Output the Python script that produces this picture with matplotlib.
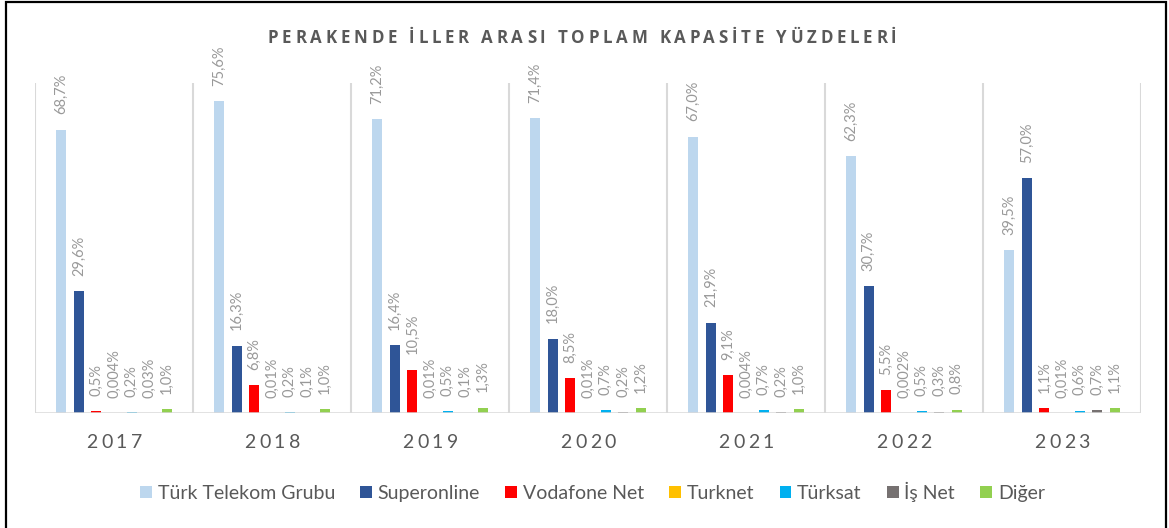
import matplotlib
matplotlib.use("Agg")
import matplotlib.pyplot as plt
from matplotlib.patches import Patch, Rectangle
from matplotlib.font_manager import FontProperties
import numpy as np

plt.rcParams['font.family'] = ['Lato', 'DejaVu Sans']

years = ["2017", "2018", "2019", "2020", "2021", "2022", "2023"]
series_names = ["Türk Telekom Grubu", "Superonline", "Vodafone Net", "Turknet", "Türksat", "İş Net", "Diğer"]
turk_telekom = [68.7, 75.6, 71.2, 71.4, 67.0, 62.3, 39.5]
superonline = [29.6, 16.3, 16.4, 18.0, 21.9, 30.7, 57.0]
vodafone = [0.5, 6.8, 10.5, 8.5, 9.1, 5.5, 1.1]
turknet = [0.004, 0.01, 0.01, 0.01, 0.004, 0.002, 0.01]
turksat = [0.2, 0.2, 0.5, 0.7, 0.7, 0.5, 0.6]
isnet = [0.03, 0.1, 0.1, 0.2, 0.2, 0.3, 0.7]
diger = [1.0, 1.0, 1.3, 1.2, 1.0, 0.8, 1.1]
series = [turk_telekom, superonline, vodafone, turknet, turksat, isnet, diger]
colors = ["#BDD7EE", "#2F5597", "#FF0000", "#FFC000", "#00B0F0", "#767171", "#92D050"]
title = "PERAKENDE İLLER ARASI TOPLAM KAPASİTE YÜZDELERİ"

W, H = 1169, 528
fig = plt.figure(figsize=(W / 100, H / 100), dpi=100)
ax = fig.add_axes([35 / W, 1 - 413 / H, 1106 / W, 330 / H])
ax.set_xlim(-0.5, len(years) - 0.5)
ax.set_ylim(0, 80)

pitch = 0.1114
bw = 0.063
x = np.arange(len(years))


def fmt(v):
    s = f"{v:.1f}" if v >= 0.1 else f"{v:g}"
    return s.replace(".", ",") + "%"


for i, (vals, col) in enumerate(zip(series, colors)):
    xs = x + (i - 3) * pitch
    ax.bar(xs, vals, width=bw, color=col, zorder=3)
    for xi, v in zip(xs, vals):
        ax.annotate(fmt(v), (xi, v), xytext=(0, 11), textcoords="offset points",
                    rotation=90, ha="center", va="bottom", fontsize=10.5,
                    color="#999999", annotation_clip=False)

for b in np.arange(-0.5, len(years), 1.0):
    ax.axvline(b, color="#D9D9D9", lw=1.5, zorder=1)
ax.axhline(0, color="#D9D9D9", lw=1.8, zorder=4)
for s in ax.spines.values():
    s.set_visible(False)
ax.set_xticks([])
ax.set_yticks([])

renderer = fig.canvas.get_renderer()


def spaced_text(cx, cy, s, spacing, fp, color):
    def w(t):
        if not t:
            return 0.0
        return renderer.get_text_width_height_descent(t, fp, ismath=False)[0]
    total = w(s) + (len(s) - 1) * spacing
    x0 = cx - total / 2
    for k, ch in enumerate(s):
        if ch == " ":
            continue
        pos = x0 + w(s[:k + 1]) - w(ch) + k * spacing
        fig.text(pos / W, 1 - cy / H, ch, fontproperties=fp, color=color,
                 ha="left", va="center")


fp_title = FontProperties(family=['Open Sans', 'DejaVu Sans'], weight="bold", size=12.2)
spaced_text(582, 38, title, 3.8, fp_title, "#595959")

fp_year = FontProperties(family=['Lato', 'DejaVu Sans'], size=14)
for i, yr in enumerate(years):
    cx = 35 + 158 * (i + 0.5)
    spaced_text(cx, 442, yr, 3.5, fp_year, "#595959")

handles = [Patch(facecolor=c, edgecolor="none") for c in colors]
fig.legend(handles, series_names, loc="center", bbox_to_anchor=(592.5 / W, 1 - 492 / H),
           ncol=7, frameon=False, fontsize=14, handlelength=0.6, handleheight=0.6,
           handletextpad=0.3, columnspacing=1.3, labelcolor="#595959")

fig.patches.append(Rectangle((6 / W, -0.05), 1160 / W, 1.05 - 2 / H, transform=fig.transFigure,
                             fill=False, edgecolor="black", lw=1.6))

fig.savefig("out.png", dpi=100)
